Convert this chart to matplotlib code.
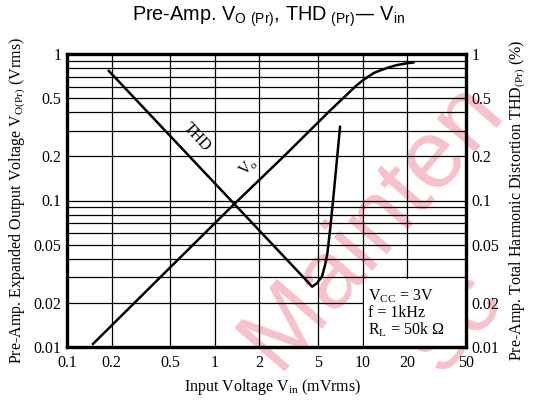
import matplotlib
matplotlib.use("Agg")
import matplotlib.pyplot as plt
from matplotlib.patches import Rectangle

# Vo(Pr) vs Vin (mVrms -> Vrms)
vo_vin = [0.15, 0.5, 1.33, 3.0, 6.0, 8.0, 9.0, 10.0, 11.0, 12.0, 13.5, 15.0, 17.0, 20.0, 22.0]
vo_out = [0.0105, 0.035, 0.093, 0.205, 0.41, 0.54, 0.605, 0.66, 0.705, 0.745, 0.78,
          0.81, 0.84, 0.865, 0.875]

# THD(Pr) vs Vin (mVrms -> %)
thd_vin = [0.192, 4.2, 4.55, 4.9, 5.3, 5.57, 5.77, 6.02, 6.28, 6.5, 7.03]
thd_pct = [0.766, 0.0282, 0.0258, 0.0272, 0.0302, 0.0363, 0.0436, 0.063, 0.096, 0.138, 0.318]

x_ticks = [0.1, 0.2, 0.5, 1, 2, 5, 10, 20, 50]
x_labels = ["0.1", "0.2", "0.5", "1", "2", "5", "10", "20", "50"]
y_ticks = [0.01, 0.02, 0.05, 0.1, 0.2, 0.5, 1]
y_labels = ["0.01", "0.02", "0.05", "0.1", "0.2", "0.5", "1"]

SERIF = "Liberation Serif"
SANS = "Liberation Sans"
PINK = "#f6c1cb"

fig = plt.figure(figsize=(5.33, 4.03), dpi=100)
ax = fig.add_axes([67 / 533, 56 / 403, 399 / 533, 293 / 403])
ax.set_facecolor("none")

# watermark (visible part only), behind the chart
fig.text(372 / 533, 1 - 224 / 403, "Mainten", rotation=49, rotation_mode="anchor",
         ha="center", va="center", fontsize=70, color=PINK, family=SANS, zorder=-5)
fig.text(455 / 533, 1 - 322 / 403, "sc", rotation=49, rotation_mode="anchor",
         ha="center", va="center", fontsize=70, color=PINK, family=SANS, zorder=-5)

ax.set_xscale("log")
ax.set_yscale("log")
ax.set_xlim(0.1, 50)
ax.set_ylim(0.01, 1)
ax.set_axisbelow(True)
ax.grid(True, which="both", color="black", lw=0.9)

# blank area behind the conditions note
ax.add_patch(Rectangle((10.25, 0.0101), 39.5, 0.0192, facecolor="white",
                       edgecolor="none", zorder=1))

ax.plot(vo_vin, vo_out, color="black", lw=1.8, zorder=3)
ax.plot(thd_vin, thd_pct, color="black", lw=1.8, zorder=3)

ax.set_xticks(x_ticks)
ax.set_xticklabels(x_labels)
ax.set_yticks(y_ticks)
ax.set_yticklabels(y_labels)
ax.tick_params(which="both", length=0, labelsize=11.5, pad=4)
ax.tick_params(axis="x", pad=6)
for t in ax.get_xticklabels() + ax.get_yticklabels():
    t.set_family(SERIF)
for s in ax.spines.values():
    s.set_linewidth(2.4)

ax2 = ax.twinx()
ax2.set_yscale("log")
ax2.set_ylim(0.01, 1)
ax2.set_yticks(y_ticks)
ax2.set_yticklabels(y_labels)
ax2.minorticks_off()
ax2.tick_params(which="both", length=0, labelsize=11.5, pad=4)
for t in ax2.get_yticklabels():
    t.set_family(SERIF)
for s in ax2.spines.values():
    s.set_visible(False)

ax.text(0.326, 0.717, "THD", transform=ax.transAxes, rotation=-47, ha="center",
        va="center", fontsize=11.5, family=SERIF)
ax.text(0.454, 0.614, r"V$_\mathregular{o}$", transform=ax.transAxes, rotation=45,
        ha="center", va="center", fontsize=11.5, family=SERIF)

ax.text(0.755, 0.116, "V$_\\mathregular{CC}$ = 3V\nf = 1kHz\nR$_\\mathregular{L}$ = 50k \u03a9",
        transform=ax.transAxes, ha="left", va="center", fontsize=11.5,
        family=SERIF, linespacing=1.0, zorder=4)

ax.set_xlabel(r"Input Voltage V$_\mathregular{in}$ (mVrms)", family=SERIF, fontsize=11.5)
ax.xaxis.set_label_coords(0.515, -0.102)
ax.set_ylabel(r"Pre-Amp. Expanded Output Voltage V$_\mathregular{O(Pr)}$ (Vrms)",
              family=SERIF, fontsize=11.5, labelpad=4)
ax2.set_ylabel(r"Pre-Amp. Total Harmonic Distortion THD$_\mathregular{(Pr)}$ (%)",
               family=SERIF, fontsize=11.5, rotation=90, labelpad=6)

fig.text(0.504, 1 - 17 / 403,
         "Pre-Amp. V$_\\mathregular{O\\ (Pr)}$, THD$_\\mathregular{\\ (Pr)}$\u2014 V$_\\mathregular{in}$",
         ha="center", va="center", fontsize=14.3, family=SANS)

fig.savefig("out.png", dpi=100)
